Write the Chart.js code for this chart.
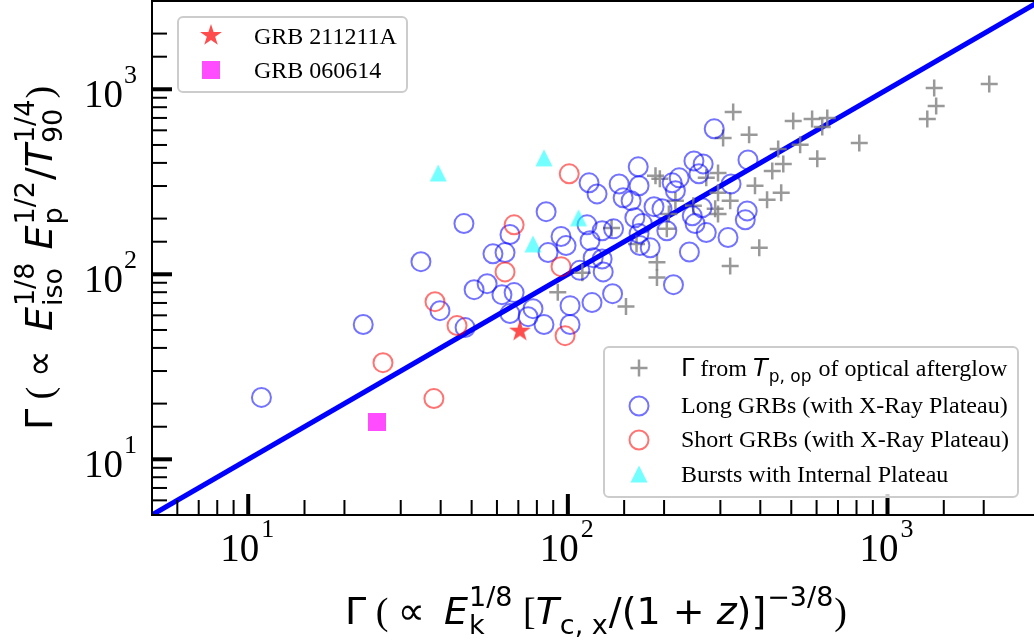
<!DOCTYPE html>
<html>
<head>
<meta charset="utf-8">
<script src="https://cdn.jsdelivr.net/npm/chart.js@4.4.1/dist/chart.umd.min.js"></script>
<style>
html, body { margin: 0; padding: 0; background: #fff; overflow: hidden; }
#wrap { width: 1034px; height: 641px; overflow: hidden; }
canvas { display: block; }
</style>
</head>
<body>
<div id="wrap"><canvas id="chart" width="1042" height="641"></canvas></div>
<script>
// values (both axes log)
const axisMin = 5, axisMax = 3000;
const majorTicks = [10, 100, 1000];
const tickExponents = ['1', '2', '3'];

// Gamma from T_p,op of optical afterglow
const opticalX = [329, 306, 369, 507, 581, 648, 625, 533, 455, 472, 436, 603, 816, 1400, 1420, 1332, 2081,
    385, 465, 420, 295, 271, 188, 194, 295, 322, 289, 295, 217, 207, 247, 204, 164, 397, 322, 190, 190, 137, 111, 93, 152];
const opticalY = [754, 546, 567, 674, 691, 700, 626, 501, 476, 395, 362, 421, 513, 1016, 813, 691, 1068,
    301, 276, 253, 353, 332, 341, 328, 276, 250, 226, 212, 250, 212, 235, 176, 146, 139, 111, 116, 96, 178, 102, 80, 67];

// long GRBs (with X-ray plateau)
const longX = [11.0, 22.9, 34.7, 39.8, 47.7, 47.3, 58.3, 63.6, 65.9, 55.9, 50.9, 62.2, 67.9, 65.9, 75.1, 77.8, 84.2,
    85.5, 95.2, 98.7, 86.7, 101.6, 101.6, 114.8, 117.3, 116.5, 123.4, 144.7, 148.9, 157.7, 167, 166, 212, 223, 217,
    248, 265, 257, 186, 197, 162, 171, 245, 263, 250, 271, 204, 139, 128, 167, 168, 181, 240, 128, 120, 109, 129,
    119, 138, 214, 287, 366, 324, 364, 359, 317];
const longY = [21.6, 53.5, 117, 63.6, 51.5, 188, 129, 131, 164, 89, 82.6, 77.6, 79.6, 61.3, 59.0, 65.2, 53.5,
    218, 160, 143, 131, 67.7, 53.5, 185, 152, 312, 272, 308, 259, 250, 301, 381, 312, 332, 283,
    410, 395, 349, 232, 226, 202, 188, 207, 229, 188, 168, 172, 176, 172, 166, 143, 139, 132, 121, 123, 105, 103,
    70.3, 78.6, 87.9, 611, 415, 308, 220, 197, 158];

// short GRBs (with X-ray plateau)
const shortX = [101, 67.9, 63.6, 38.4, 45.0, 26.4, 38.1, 95.2, 98.0];
const shortY = [349, 185, 103, 71.1, 52.8, 33.3, 21.3, 110, 46.6];

// bursts with internal plateau
const plateauX = [39.3, 84.2, 77.8, 108];
const plateauY = [353, 426, 146, 202];

const grb211211A = [70.8, 49.6];
const grb060614 = [25.3, 16.0];

const SERIF = '"Liberation Serif", "Times New Roman", serif';
const SANS = '"DejaVu Sans", sans-serif';

const toPoints = (xs, ys) => xs.map((x, i) => ({ x: x, y: ys[i] }));

function makeMarker(w, h, draw) {
    const c = document.createElement('canvas');
    c.width = w; c.height = h;
    draw(c.getContext('2d'));
    return c;
}
const starImg = makeMarker(26, 26, g => {
    g.fillStyle = 'rgba(255,0,0,0.7)';
    g.beginPath();
    for (let i = 0; i < 10; i++) {
        const a = -Math.PI / 2 + i * Math.PI / 5;
        const r = i % 2 ? 4.4 : 11.5;
        g.lineTo(13 + r * Math.cos(a), 13.5 + r * Math.sin(a));
    }
    g.closePath();
    g.fill();
});
const squareImg = makeMarker(18, 18, g => {
    g.fillStyle = 'rgba(255,0,255,0.7)';
    g.fillRect(0, 0, 18, 18);
});
const triImg = makeMarker(20, 20, g => {
    g.fillStyle = 'rgba(0,255,255,0.55)';
    g.beginPath();
    g.moveTo(10, 1.5); g.lineTo(18.5, 18.5); g.lineTo(1.5, 18.5);
    g.closePath();
    g.fill();
});

const grayPlus = 'rgba(128,128,128,0.8)';
const blueRing = 'rgba(0,0,255,0.55)';
const redRing = 'rgba(255,0,0,0.55)';

// text with sub/superscripts drawn as runs
function runFont(style, size) {
    if (style === 'r') return size + 'px ' + SERIF;
    if (style === 'i') return 'italic ' + size + 'px ' + SANS;
    return size + 'px ' + SANS;
}
function drawRich(ctx, parts, x, y, M, draw) {
    let cx = x;
    const S = Math.round(M * 0.7);
    parts.forEach(p => {
        if (Array.isArray(p)) {
            ctx.font = runFont(p[1], M);
            if (draw) ctx.fillText(p[0], cx, y);
            cx += ctx.measureText(p[0]).width;
        } else {
            ctx.font = runFont('s', S);
            let w = 0;
            if (p.sup) {
                if (draw) ctx.fillText(p.sup, cx + 1, y - 0.48 * M);
                w = Math.max(w, ctx.measureText(p.sup).width);
            }
            if (p.sub) {
                if (draw) ctx.fillText(p.sub, cx + 1, y + 0.25 * M);
                w = Math.max(w, ctx.measureText(p.sub).width);
            }
            cx += w + 2;
        }
    });
    return cx - x;
}
function drawRichCentered(ctx, parts, cx, y, M) {
    const w = drawRich(ctx, parts, 0, 0, M, false);
    drawRich(ctx, parts, cx - w / 2, y, M, true);
}

const xTitle = [['Γ', 's'], [' ( ', 'r'], ['∝', 's'], ['  ', 'r'], ['E', 'i'], { sup: '1/8', sub: 'k' },
    [' [', 'r'], ['T', 'i'], { sub: 'c, x' }, ['/(1 + ', 's'], ['z', 'i'], [')]', 's'], { sup: '−3/8' }, [')', 'r']];
const yTitle = [['Γ', 's'], [' ( ', 'r'], ['∝', 's'], ['  ', 'r'], ['E', 'i'], { sup: '1/8', sub: 'iso' },
    [' ', 's'], ['E', 'i'], { sup: '1/2', sub: 'p' }, ['/', 's'], ['T', 'i'], { sup: '1/4', sub: '90' }, [')', 'r']];
const opticalLabel = [['Γ', 's'], [' from ', 'r'], ['T', 'i'], { sub: 'p, op' }, [' of optical afterglow', 'r']];

function legendBox(ctx, x, y, w, h) {
    ctx.save();
    ctx.beginPath();
    ctx.roundRect(x, y, w, h, 5);
    ctx.fillStyle = 'rgba(255,255,255,0.8)';
    ctx.fill();
    ctx.lineWidth = 2;
    ctx.strokeStyle = '#cccccc';
    ctx.stroke();
    ctx.restore();
}
function ring(ctx, x, y, color) {
    ctx.beginPath();
    ctx.arc(x, y, 9.5, 0, Math.PI * 2);
    ctx.lineWidth = 2;
    ctx.strokeStyle = color;
    ctx.stroke();
}

const decorations = {
    id: 'decorations',
    beforeDraw(chart) {
        const ctx = chart.ctx;
        ctx.save();
        ctx.fillStyle = '#fff';
        ctx.fillRect(0, 0, chart.width, chart.height);
        ctx.restore();
    },
    afterDraw(chart) {
        const ctx = chart.ctx;
        const a = chart.chartArea;
        const xs = chart.scales.x, ys = chart.scales.y;
        ctx.save();
        ctx.fillStyle = '#000';

        // inward ticks
        ys.ticks.forEach(t => {
            if (t.value <= axisMin || t.value >= axisMax) return;
            const major = majorTicks.includes(t.value);
            const py = ys.getPixelForValue(t.value);
            const w = major ? 4 : 2, len = major ? 20 : 15;
            ctx.fillRect(a.left, py - w / 2, len, w);
        });
        xs.ticks.forEach(t => {
            if (t.value <= axisMin || t.value >= axisMax) return;
            const major = majorTicks.includes(t.value);
            const px = xs.getPixelForValue(t.value);
            const w = major ? 4 : 2, len = major ? 21 : 15;
            ctx.fillRect(px - w / 2, a.bottom - len, w, len);
        });

        // spines
        ctx.strokeStyle = '#000';
        ctx.lineWidth = 2;
        ctx.beginPath();
        ctx.moveTo(a.right + 2, a.top); ctx.lineTo(a.left, a.top);
        ctx.lineTo(a.left, a.bottom); ctx.lineTo(a.right + 2, a.bottom);
        ctx.stroke();

        // tick labels 10^n
        ctx.textBaseline = 'alphabetic';
        majorTicks.forEach((v, i) => {
            const py = ys.getPixelForValue(v);
            ctx.font = '39px ' + SERIF;
            const w10 = ctx.measureText('10').width;
            ctx.font = '26px ' + SERIF;
            const we = ctx.measureText(tickExponents[i]).width;
            const x0 = a.left - 15 - we - 1 - w10;
            ctx.font = '39px ' + SERIF;
            ctx.fillText('10', x0, py + 18);
            ctx.font = '26px ' + SERIF;
            ctx.fillText(tickExponents[i], x0 + w10 + 1, py - 6);

            const px = xs.getPixelForValue(v);
            const x1 = px - (w10 + 2 + we) / 2 - 1;
            ctx.font = '39px ' + SERIF;
            ctx.fillText('10', x1, 561);
            ctx.font = '26px ' + SERIF;
            ctx.fillText(tickExponents[i], x1 + w10 + 2, 537);
        });

        // axis titles
        drawRichCentered(ctx, xTitle, (a.left + a.right) / 2, 624, 38);
        ctx.save();
        ctx.translate(52, (a.top + a.bottom) / 2);
        ctx.rotate(-Math.PI / 2);
        drawRichCentered(ctx, yTitle, 0, 0, 38);
        ctx.restore();

        // upper-left legend
        legendBox(ctx, 178, 17, 229, 75);
        ctx.drawImage(starImg, 211 - 13, 35 - 13);
        ctx.drawImage(squareImg, 211 - 9, 70 - 9);
        ctx.fillStyle = '#000';
        ctx.font = '24px ' + SERIF;
        ctx.fillText('GRB 211211A', 254, 44);
        ctx.fillText('GRB 060614', 254, 78);

        // lower-right legend
        legendBox(ctx, 604, 347, 414, 150);
        ctx.strokeStyle = grayPlus;
        ctx.lineWidth = 2.5;
        ctx.beginPath();
        ctx.moveTo(639 - 8.5, 368); ctx.lineTo(639 + 8.5, 368);
        ctx.moveTo(639, 368 - 8.5); ctx.lineTo(639, 368 + 8.5);
        ctx.stroke();
        ring(ctx, 639, 406, blueRing);
        ring(ctx, 639, 440, redRing);
        ctx.drawImage(triImg, 639 - 10, 474 - 10);
        ctx.fillStyle = '#000';
        drawRich(ctx, opticalLabel, 681, 376, 24, true);
        ctx.font = '24px ' + SERIF;
        ctx.fillText('Long GRBs (with X-Ray Plateau)', 681, 413);
        ctx.fillText('Short GRBs (with X-Ray Plateau)', 681, 447);
        ctx.fillText('Bursts with Internal Plateau', 681, 482);
        ctx.restore();
    }
};

new Chart(document.getElementById('chart'), {
    type: 'scatter',
    data: {
        datasets: [
            {
                type: 'line', label: 'Gamma = Gamma', order: 10,
                data: [{ x: axisMin, y: axisMin }, { x: axisMax, y: axisMax }],
                borderColor: '#0000ff', borderWidth: 5, pointRadius: 0, fill: false
            },
            {
                label: 'optical', order: 6, data: toPoints(opticalX, opticalY),
                pointStyle: 'cross', pointRadius: 8.5, borderWidth: 2.5, borderColor: grayPlus
            },
            {
                label: 'long', order: 5, data: toPoints(longX, longY),
                pointStyle: 'circle', pointRadius: 9.5, borderWidth: 2, borderColor: blueRing,
                backgroundColor: 'rgba(0,0,0,0)'
            },
            {
                label: 'short', order: 4, data: toPoints(shortX, shortY),
                pointStyle: 'circle', pointRadius: 9.5, borderWidth: 2, borderColor: redRing,
                backgroundColor: 'rgba(0,0,0,0)'
            },
            {
                label: 'internal', order: 3, data: toPoints(plateauX, plateauY),
                pointStyle: triImg, pointRadius: 10
            },
            {
                label: 'GRB 211211A', order: 2, data: [{ x: grb211211A[0], y: grb211211A[1] }],
                pointStyle: starImg, pointRadius: 12
            },
            {
                label: 'GRB 060614', order: 1, data: [{ x: grb060614[0], y: grb060614[1] }],
                pointStyle: squareImg, pointRadius: 10
            }
        ]
    },
    options: {
        responsive: false,
        animation: false,
        devicePixelRatio: 1,
        events: [],
        layout: { autoPadding: false, padding: { left: 0, right: 2, top: 1, bottom: 0 } },
        plugins: { legend: { display: false }, tooltip: { enabled: false } },
        scales: {
            x: {
                type: 'logarithmic', min: axisMin, max: axisMax,
                ticks: { display: false }, grid: { display: false }, border: { display: false },
                afterFit: s => { s.height = 126; }
            },
            y: {
                type: 'logarithmic', min: axisMin, max: axisMax,
                ticks: { display: false }, grid: { display: false }, border: { display: false },
                afterFit: s => { s.width = 152; }
            }
        }
    },
    plugins: [decorations]
});
</script>
</body>
</html>
